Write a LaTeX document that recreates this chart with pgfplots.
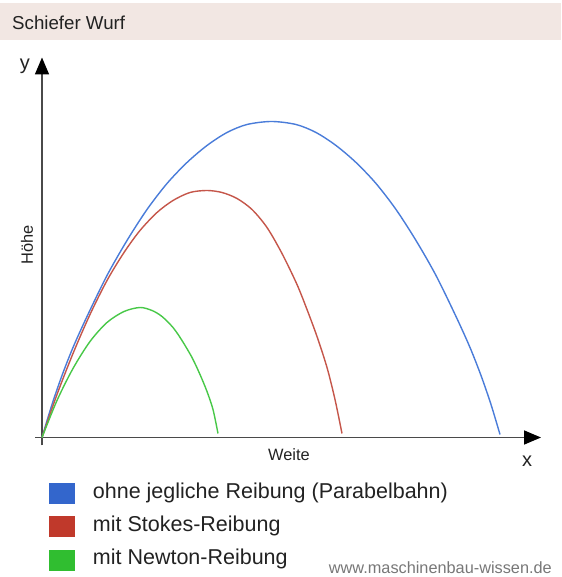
\documentclass[border=0pt]{standalone}
\usepackage{fontspec}
\setmainfont{Liberation Sans}
\usepackage{pgfplots}
\pgfplotsset{compat=1.18}
\usetikzlibrary{arrows.meta}
\definecolor{titlebg}{HTML}{F2E7E3}
\definecolor{titletext}{HTML}{222222}
\definecolor{axisgray}{HTML}{4A4A4A}
\definecolor{lblue}{RGB}{74,124,217}
\definecolor{lred}{RGB}{197,86,74}
\definecolor{lgreen}{RGB}{72,200,72}
\definecolor{sqblue}{HTML}{3366CC}
\definecolor{sqred}{HTML}{C0392B}
\definecolor{sqgreen}{RGB}{48,190,48}
\definecolor{legtext}{HTML}{222222}
\definecolor{wmgray}{HTML}{777777}
\begin{document}
\begin{tikzpicture}[x=1pt,y=1pt]
\path[use as bounding box] (0,0) rectangle (561,577);
\fill[titlebg] (0,537) rectangle (561,574);
\node[anchor=base west, inner sep=0pt, font=\fontsize{18.7}{20}\selectfont, text=titletext] at (12,547) {Schiefer Wurf};
\begin{axis}[
  at={(35pt,131.5pt)}, anchor=south west,
  scale only axis, width=506pt, height=388pt,
  xmin=-7, xmax=499, ymin=-8, ymax=380,
  axis lines=middle,
  axis line style={line width=1.6pt, draw=axisgray, -{Triangle[length=17pt,width=14pt,color=black]}},
  xtick=\empty, ytick=\empty,
  clip=false,
  legend cell align=left,
  legend style={at={(0.0267,-0.0966)}, anchor=north west, draw=none, fill=none,
    inner sep=0pt, outer sep=0pt, row sep=13pt,
    font=\fontsize{21.5}{24}\selectfont, text=legtext,
    nodes={inner sep=0pt, text height=15pt, text depth=5pt},
    /tikz/every odd column/.append style={column sep=19pt}},
]
\addlegendimage{legend image code/.code={\fill[sqblue] (0pt,-10pt) rectangle (25pt,10pt);}}
\addlegendentry{ohne jegliche Reibung (Parabelbahn)}
\addlegendimage{legend image code/.code={\fill[sqred] (0pt,-10pt) rectangle (25pt,10pt);}}
\addlegendentry{mit Stokes-Reibung}
\addlegendimage{legend image code/.code={\fill[sqgreen] (0pt,-10pt) rectangle (25pt,10pt);}}
\addlegendentry{mit Newton-Reibung}

% ohne Reibung (Parabel)
\addplot[forget plot, lblue, line width=1.4pt, smooth] coordinates {
(0,0) (10,33) (20,62) (31,90) (45,121) (65,162) (85,197) (105,228) (125,254)
(145,275) (165,292) (185,305) (205,313) (229.5,316) (254,313) (274,305)
(294,292) (314,275) (334,254) (354,228) (374,197) (394,162) (414,121)
(428,90) (439,62) (449,33) (458,3)};
% Stokes-Reibung
\addplot[forget plot, lred, line width=1.4pt, smooth] coordinates {
(0,0) (15,43) (31,84) (48,123) (65,157) (82,185) (98,207) (115,225) (131,237)
(148,245) (165,247) (180,245) (195,239) (210,228) (225,210) (240,184)
(255,153) (265,128) (275,101) (285,70) (293,38) (300,4)};
% Newton-Reibung
\addplot[forget plot, lgreen, line width=1.4pt, smooth] coordinates {
(0,0) (15,37) (31,69) (48,96) (65,115) (82,126) (98,130) (110,127) (120,121)
(131,110) (140,97) (150,80) (158,63) (165,46) (171,28) (176,4)};

\node[font=\fontsize{16.4}{18}\selectfont, text=legtext] at (axis cs:247,-17.5) {Weite};
\node[font=\fontsize{20}{22}\selectfont, text=legtext] at (axis cs:485,-23.5) {x};
\node[font=\fontsize{20}{22}\selectfont, text=legtext] at (axis cs:-17,371) {y};
\node[font=\fontsize{16.4}{18}\selectfont, text=legtext, rotate=90] at (axis cs:-15,192.5) {Höhe};
\end{axis}
\node[anchor=base east, inner sep=0pt, font=\fontsize{16.3}{18}\selectfont, text=wmgray] at (552,4) {www.maschinenbau-wissen.de};
\end{tikzpicture}
\end{document}
